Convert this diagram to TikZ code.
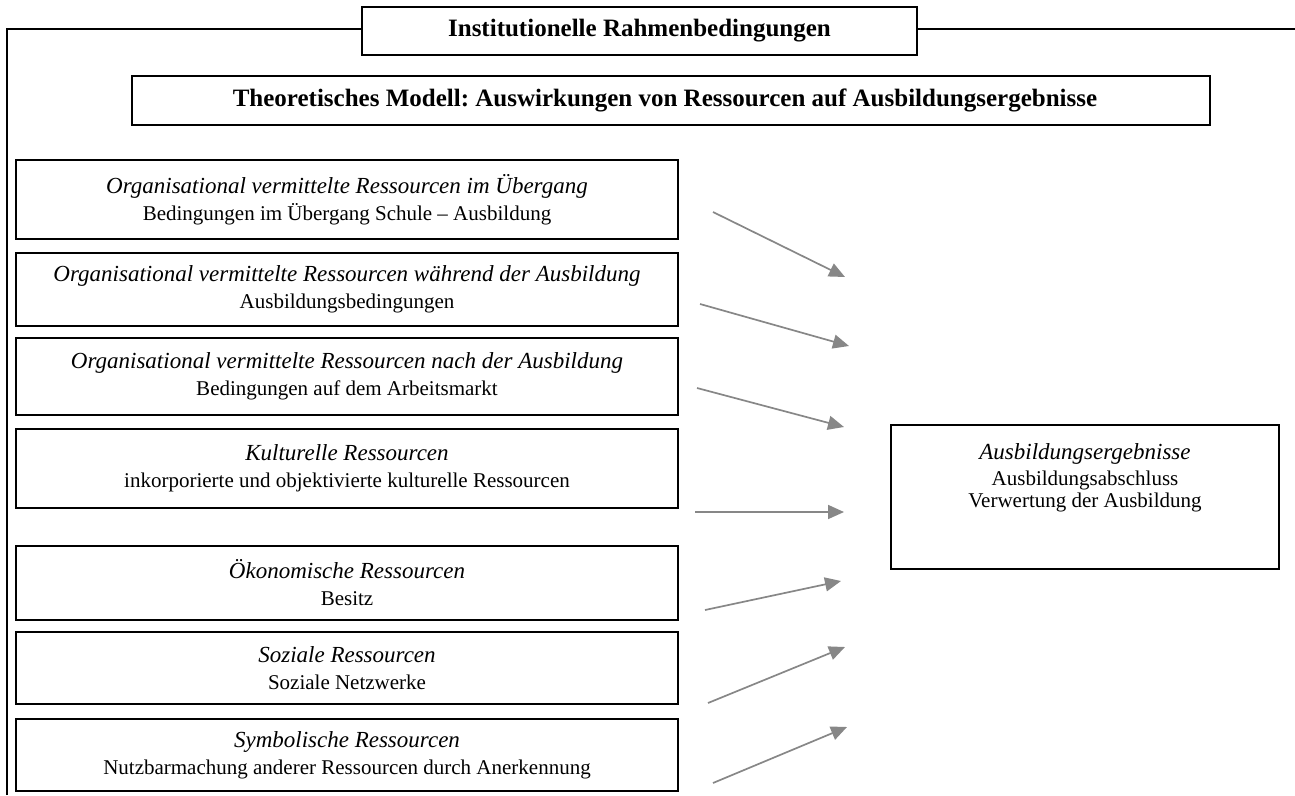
\documentclass[tikz,border=0pt]{standalone}
\usepackage{fontspec}
\setmainfont{Liberation Serif}
\usetikzlibrary{arrows.meta}
\definecolor{arrowgray}{RGB}{135,135,135}
\newcommand{\itl}[1]{{\fontsize{23}{27}\selectfont\itshape #1}}
\begin{document}
\frenchspacing
\begin{tikzpicture}[x=1pt,y=-1pt,
  box/.style={draw=black,line width=1.5pt,align=center,inner sep=0pt,font=\fontsize{21}{27}\selectfont},
  resbox/.style={box,minimum width=662pt},
  titlebox/.style={box,font=\fontsize{25}{30}\selectfont\bfseries},
  arr/.style={draw=arrowgray,line width=1.7pt,-{Triangle[length=16pt,width=14pt]}},
  frameline/.style={draw=black,line width=1.5pt}]
\useasboundingbox (0,0) rectangle (1295,795);

% titles
\node[titlebox,minimum width=555pt,minimum height=48pt] (inst) at (639.5,31) {Institutionelle Rahmenbedingungen};
\node[titlebox,minimum width=1078pt,minimum height=49pt] (theo) at (671,100.5) {\hspace*{-12pt}Theoretisches Modell: Auswirkungen von Ressourcen auf Ausbildungsergebnisse};

% outer frame
\coordinate (fbl) at (7,795);
\coordinate (ftl) at (7,29);
\coordinate (ftr) at (1295,29);
\draw[frameline] (fbl) -- (ftl) -- (inst.west |- ftl);
\draw[frameline] (inst.east |- ftr) -- (ftr);

% resource boxes
\node[resbox,minimum height=79pt] (r1) at (347,199.5) {\itl{Organisational vermittelte Ressourcen im Übergang}\\ Bedingungen im Übergang Schule – Ausbildung};
\node[resbox,minimum height=73pt] (r2) at (347,289.5) {\itl{Organisational vermittelte Ressourcen während der Ausbildung}\\ Ausbildungsbedingungen};
\node[resbox,minimum height=77pt] (r3) at (347,376.5) {\itl{Organisational vermittelte Ressourcen nach der Ausbildung}\\ Bedingungen auf dem Arbeitsmarkt};
\node[resbox,minimum height=79pt] (r4) at (347,468.5) {\itl{Kulturelle Ressourcen}\\ inkorporierte und objektivierte kulturelle Ressourcen};
\node[resbox,minimum height=74pt] (r5) at (347,583) {\itl{Ökonomische Ressourcen}\\ Besitz};
\node[resbox,minimum height=72pt] (r6) at (347,668) {\itl{Soziale Ressourcen}\\ Soziale Netzwerke};
\node[resbox,minimum height=72pt] (r7) at (347,755) {\itl{Symbolische Ressourcen}\\ Nutzbarmachung anderer Ressourcen durch Anerkennung};

% outcome box
\node[box,minimum width=388pt,minimum height=144pt] (erg) at (1085,497) {};
\node[align=center,inner sep=0pt,anchor=north,font=\fontsize{21}{27}\selectfont] (ergtext) at (1085,443) {\itl{Ausbildungsergebnisse}\\[-1pt] Ausbildungsabschluss\\[-5pt] Verwertung der Ausbildung};

% arrows
\coordinate (a1s) at (713,212); \coordinate (a1e) at (845,277);
\coordinate (a2s) at (700,304); \coordinate (a2e) at (849,346);
\coordinate (a3s) at (697,388); \coordinate (a3e) at (844,427);
\coordinate (a4s) at (695,512); \coordinate (a4e) at (844,512);
\coordinate (a5s) at (705,610); \coordinate (a5e) at (841,581);
\coordinate (a6s) at (708,703); \coordinate (a6e) at (845,647);
\coordinate (a7s) at (713,783); \coordinate (a7e) at (847,727);
\foreach \i in {1,...,7} {\draw[arr] (a\i s) -- (a\i e);}
\end{tikzpicture}
\end{document}
